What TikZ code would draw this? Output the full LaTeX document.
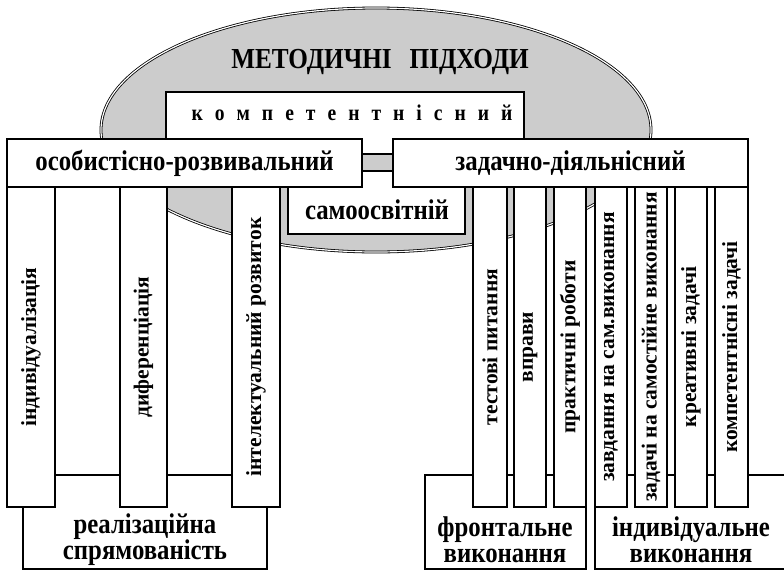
\documentclass[tikz,border=0pt]{standalone}
\usepackage{fontspec}
\setmainfont{Liberation Serif}
\newfontfamily\condfont[FakeStretch=0.87]{Liberation Serif}
\definecolor{ellgray}{RGB}{204,204,204}
\tikzset{
  box/.style={draw=black, line width=1.2pt, fill=white, inner sep=0pt, outer sep=0pt},
  htext/.style={font=\condfont\fontsize{28.5}{26}\selectfont\bfseries, inner sep=0pt, align=center},
  vtext/.style={font=\fontsize{21.5}{23}\selectfont\bfseries},
  vbar/.style={box, vtext, rotate=90, minimum width=320pt, minimum height=#1},
}
\begin{document}
\begin{tikzpicture}[x=1pt,y=-1pt]
\useasboundingbox (0,0) rectangle (784,571);
\clip (0,0) rectangle (784,571);
\fill[white] (0,0) rectangle (784,571);
% ellipse
\coordinate (ellc) at (376,130);
\fill[ellgray] (ellc) ellipse [x radius=275, y radius=122];
\draw[black, line width=0.8pt, double=white, double distance=1.2pt] (ellc) ellipse [x radius=275, y radius=122];
\node[htext, font=\condfont\fontsize{29}{30}\selectfont\bfseries] (title) at (380,62) {МЕТОДИЧНІ\hspace{0.4em} ПІДХОДИ};
% competence box
\node[box, anchor=north west, minimum width=358pt, minimum height=62pt] (komp) at (166,92) {};
\node[inner sep=0pt, font=\condfont\fontsize{22.5}{24}\selectfont\bfseries] (kompt) at (352,113)
  {\spaceskip=12pt к о м п е т е н т н і с н и й};
% self-education box
\node[box, anchor=north west, minimum width=177pt, minimum height=63pt] (samo) at (288,171) {};
\node[htext] (samot) at (377,210) {самоосвітній};
% bottom boxes
\node[box, anchor=north west, minimum width=244pt, minimum height=94pt] (real) at (23,475) {};
\node[box, anchor=north west, minimum width=161pt, minimum height=94pt] (front) at (425,475) {};
\node[box, anchor=north west, minimum width=220pt, minimum height=94pt] (indiv) at (595,475) {};
\node[htext] (realt) at (145,540) {реалізаційна\\спрямованість};
\node[htext] (frontt) at (505,540) {фронтальне\\виконання};
\node[htext] (indivt) at (691,540) {індивідуальне\\виконання};
% vertical bars (left)
\node[vbar=48pt] (b1) at (31,347) {індивідуалізація};
\node[vbar=47pt] (b2) at (143.5,347) {диференціація};
\node[vbar=48pt] (b3) at (256,347) {інтелектуальний розвиток};
% vertical bars (right)
\node[vbar=34pt] (r1) at (490,347) {тестові питання};
\node[vbar=32pt] (r2) at (530,347) {вправи};
\node[vbar=32pt] (r3) at (570,347) {практичні роботи};
\node[vbar=32pt] (r4) at (611,347) {завдання на сам.виконання};
\node[vbar=32pt] (r5) at (651,347) {задачі на самостійне виконання};
\node[vbar=32pt] (r6) at (691,347) {креативні задачі};
\node[vbar=33pt] (r7) at (731.5,347) {компетентнісні задачі};
% top boxes
\node[box, htext, minimum width=355pt, minimum height=48pt] (osob) at (184.5,163) {особистісно-розвивальний};
\node[box, htext, minimum width=355pt, minimum height=48pt] (zad) at (570.5,163) {задачно-діяльнісний};
\end{tikzpicture}
\end{document}
